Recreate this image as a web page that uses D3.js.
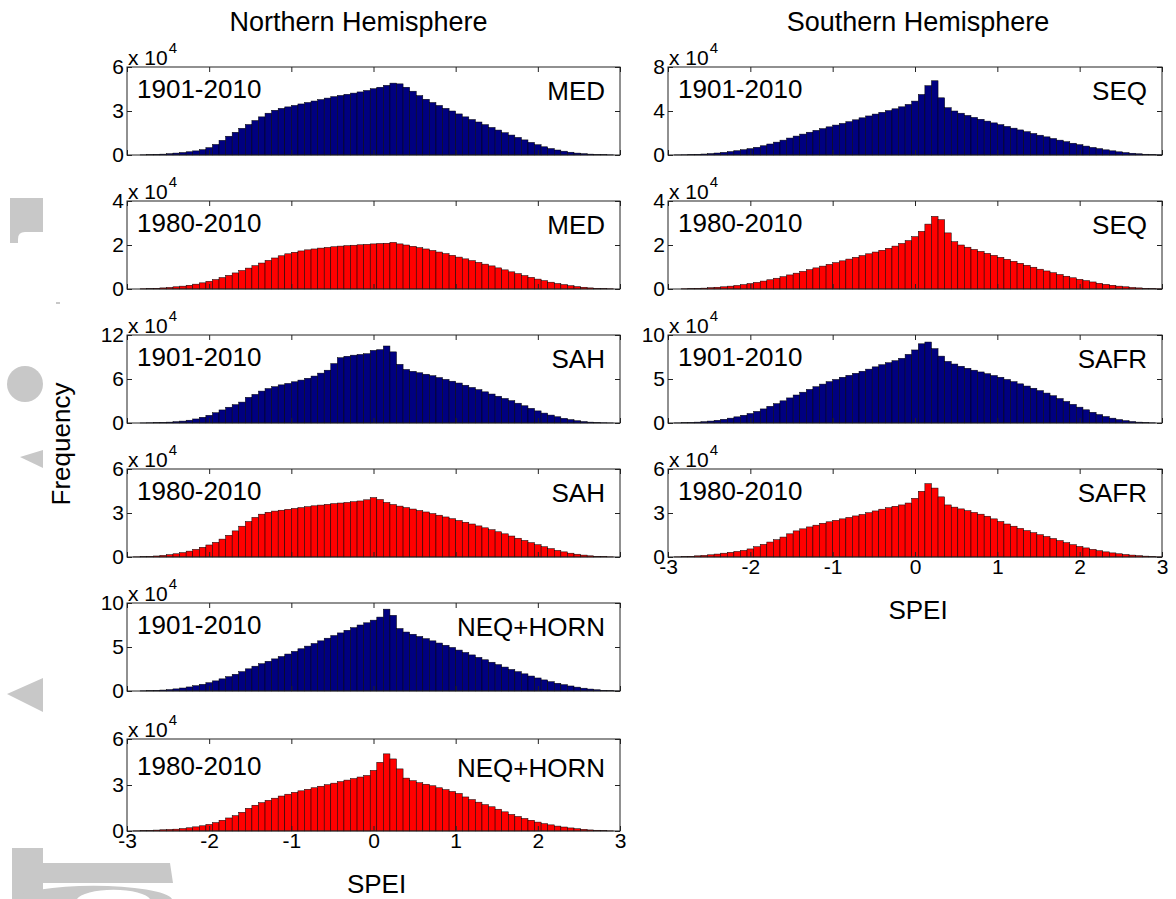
<!DOCTYPE html>
<html><head><meta charset="utf-8">
<script src="https://cdn.jsdelivr.net/npm/d3@7"></script>
<style>
body{margin:0;background:#fff}
svg{display:block}
text{font-family:Arial,"Liberation Sans",sans-serif;fill:#000}
</style>
</head><body>
<svg id="c" width="1176" height="899"></svg>
<script>
// ---------- DATA ----------
const binCenters = [-2.96,-2.88,-2.80,-2.72,-2.64,-2.56,-2.48,-2.40,-2.32,-2.24,-2.16,-2.08,-2.00,-1.92,-1.84,-1.76,-1.68,-1.60,-1.52,-1.44,-1.36,-1.28,-1.20,-1.12,-1.04,-0.96,-0.88,-0.80,-0.72,-0.64,-0.56,-0.48,-0.40,-0.32,-0.24,-0.16,-0.08,0.00,0.08,0.16,0.24,0.32,0.40,0.48,0.56,0.64,0.72,0.80,0.88,0.96,1.04,1.12,1.20,1.28,1.36,1.44,1.52,1.60,1.68,1.76,1.84,1.92,2.00,2.08,2.16,2.24,2.32,2.40,2.48,2.56,2.64,2.72,2.80,2.88,2.96];
const binWidth = 0.08;
const xTicks = [-3,-2,-1,0,1,2,3];
const columnTitles = ["Northern Hemisphere","Southern Hemisphere"];
const xLabel = "SPEI";
const yLabel = "Frequency";
const nhPeriods = ["1901-2010","1980-2010","1901-2010","1980-2010","1901-2010","1980-2010"];
const nhRegions = ["MED","MED","SAH","SAH","NEQ+HORN","NEQ+HORN"];
const nhYTicks = [[0,3,6],[0,2,4],[0,6,12],[0,3,6],[0,5,10],[0,3,6]];
const shPeriods = ["1901-2010","1980-2010","1901-2010","1980-2010"];
const shRegions = ["SEQ","SEQ","SAFR","SAFR"];
const shYTicks = [[0,4,8],[0,2,4],[0,5,10],[0,3,6]];

// frequencies in units of 10^4
const med1901 = [0,0,0.01,0.02,0.04,0.06,0.09,0.13,0.17,0.22,0.28,0.36,0.50,0.72,1.00,1.28,1.55,1.82,2.08,2.35,2.60,2.85,3.05,3.18,3.28,3.38,3.48,3.58,3.68,3.78,3.88,3.98,4.06,4.14,4.22,4.30,4.40,4.52,4.62,4.75,4.90,4.85,4.62,4.35,4.05,3.80,3.58,3.38,3.18,3.00,2.80,2.60,2.42,2.25,2.07,1.88,1.70,1.52,1.36,1.20,1.03,0.86,0.70,0.56,0.44,0.34,0.26,0.19,0.13,0.09,0.06,0.03,0.02,0.01,0];
const med1980 = [0,0,0.01,0.02,0.03,0.05,0.07,0.10,0.13,0.17,0.22,0.28,0.35,0.43,0.52,0.62,0.73,0.84,0.95,1.06,1.18,1.30,1.41,1.51,1.60,1.67,1.73,1.78,1.82,1.86,1.89,1.92,1.95,1.97,1.99,2.01,2.03,2.05,2.07,2.08,2.12,2.05,2.00,1.94,1.88,1.82,1.75,1.68,1.61,1.53,1.45,1.37,1.29,1.21,1.13,1.05,0.96,0.87,0.78,0.70,0.61,0.53,0.45,0.38,0.31,0.25,0.20,0.15,0.11,0.08,0.05,0.03,0.02,0.01,0];
const sah1901 = [0,0,0.01,0.03,0.05,0.08,0.12,0.18,0.26,0.38,0.55,0.78,1.05,1.40,1.78,2.15,2.50,2.85,3.50,3.90,4.35,4.70,4.95,5.20,5.40,5.62,5.85,6.10,6.40,6.80,7.20,8.10,8.90,9.10,9.25,9.35,9.45,9.90,10.00,10.50,9.70,8.00,7.30,7.05,6.85,6.65,6.45,6.20,5.95,5.70,5.45,5.15,4.85,4.55,4.25,3.95,3.65,3.35,3.05,2.70,2.35,2.00,1.65,1.35,1.08,0.85,0.64,0.46,0.31,0.20,0.12,0.06,0.03,0.01,0];
const sah1980 = [0,0.01,0.02,0.04,0.07,0.11,0.16,0.22,0.30,0.40,0.52,0.66,0.82,1.00,1.22,1.48,1.78,2.10,2.42,2.70,2.92,3.05,3.13,3.19,3.25,3.31,3.37,3.43,3.49,3.54,3.59,3.64,3.68,3.72,3.77,3.82,3.90,4.05,3.92,3.72,3.58,3.47,3.37,3.27,3.17,3.07,2.96,2.85,2.73,2.61,2.49,2.37,2.25,2.12,1.99,1.86,1.72,1.58,1.43,1.28,1.13,0.98,0.84,0.70,0.57,0.45,0.35,0.26,0.19,0.13,0.08,0.05,0.03,0.01,0];
const neq1901 = [0,0,0.02,0.04,0.07,0.11,0.16,0.24,0.34,0.46,0.60,0.76,0.94,1.15,1.38,1.63,1.90,2.20,2.52,2.82,3.10,3.38,3.65,3.92,4.20,4.50,4.80,5.10,5.40,5.70,6.00,6.30,6.60,6.90,7.20,7.50,7.75,8.05,8.40,9.30,8.60,7.10,6.70,6.45,6.20,5.95,5.70,5.45,5.20,4.95,4.65,4.38,4.10,3.82,3.55,3.27,3.00,2.72,2.45,2.20,1.95,1.70,1.48,1.26,1.06,0.88,0.72,0.57,0.44,0.32,0.22,0.14,0.08,0.04,0.01];
const neq1980 = [0,0.01,0.03,0.04,0.06,0.08,0.10,0.12,0.16,0.21,0.27,0.34,0.43,0.55,0.70,0.85,1.00,1.22,1.48,1.68,1.85,2.00,2.14,2.28,2.40,2.52,2.62,2.72,2.82,2.92,3.02,3.12,3.22,3.32,3.42,3.52,3.62,3.95,4.48,5.03,4.70,4.05,3.45,3.28,3.15,3.05,2.95,2.82,2.70,2.58,2.45,2.22,2.05,1.88,1.72,1.58,1.42,1.25,1.08,0.95,0.82,0.70,0.58,0.48,0.40,0.32,0.26,0.20,0.15,0.11,0.07,0.05,0.03,0.01,0];
const seq1901 = [0,0.01,0.02,0.04,0.06,0.09,0.13,0.18,0.24,0.31,0.39,0.48,0.58,0.70,0.84,1.00,1.17,1.35,1.54,1.72,1.90,2.07,2.24,2.40,2.56,2.72,2.87,3.03,3.20,3.38,3.55,3.72,3.88,4.04,4.20,4.38,4.60,4.90,5.50,6.30,6.75,5.20,4.30,4.00,3.80,3.60,3.42,3.25,3.08,2.92,2.76,2.60,2.44,2.28,2.12,1.96,1.80,1.65,1.50,1.35,1.21,1.07,0.94,0.81,0.69,0.58,0.47,0.38,0.29,0.22,0.16,0.11,0.07,0.04,0.02];
const seq1980 = [0,0,0.01,0.02,0.03,0.04,0.06,0.08,0.10,0.13,0.16,0.20,0.25,0.30,0.36,0.42,0.49,0.56,0.64,0.72,0.80,0.88,0.96,1.04,1.12,1.20,1.28,1.36,1.44,1.52,1.60,1.68,1.76,1.85,1.95,2.07,2.20,2.38,2.62,2.95,3.30,3.15,2.55,2.15,2.00,1.90,1.80,1.71,1.62,1.53,1.44,1.35,1.26,1.17,1.08,0.99,0.90,0.82,0.74,0.66,0.58,0.51,0.44,0.38,0.32,0.26,0.21,0.17,0.13,0.10,0.07,0.05,0.03,0.02,0.01];
const safr1901 = [0,0.01,0.03,0.06,0.10,0.15,0.22,0.31,0.42,0.55,0.70,0.88,1.08,1.32,1.60,1.90,2.20,2.52,2.85,3.18,3.50,3.82,4.12,4.42,4.70,4.95,5.20,5.42,5.65,5.88,6.12,6.38,6.62,6.85,7.08,7.35,7.80,8.30,9.00,9.20,8.45,7.60,7.00,6.70,6.45,6.22,6.00,5.80,5.60,5.40,5.20,4.95,4.70,4.45,4.20,3.95,3.68,3.40,3.10,2.78,2.45,2.12,1.80,1.50,1.22,0.96,0.74,0.55,0.39,0.27,0.17,0.10,0.05,0.02,0];
const safr1980 = [0,0.01,0.03,0.05,0.08,0.11,0.15,0.20,0.26,0.32,0.38,0.45,0.55,0.70,0.86,1.02,1.18,1.36,1.58,1.78,1.92,2.05,2.17,2.30,2.40,2.50,2.60,2.70,2.80,2.90,3.02,3.14,3.26,3.36,3.46,3.55,3.68,4.00,4.48,5.00,4.70,4.10,3.55,3.40,3.28,3.16,3.04,2.92,2.78,2.60,2.42,2.25,2.10,1.95,1.80,1.66,1.52,1.40,1.26,1.12,0.98,0.84,0.72,0.62,0.52,0.43,0.35,0.28,0.22,0.17,0.13,0.09,0.06,0.03,0.01];

const nhValues = [med1901, med1980, sah1901, sah1980, neq1901, neq1980];
const shValues = [seq1901, seq1980, safr1901, safr1980];

// ---------- LAYOUT ----------
const W = 1176, H = 899;
const colX = [[127, 620], [668, 1162]];
const rowTop = [67, 201, 335, 469, 603, 739];
const rowBottom = [155, 289, 423, 557, 691, 831];
const periodColor = {"1901-2010": "#000080", "1980-2010": "#ff0000"};
const axisColor = "#222";

const svg = d3.select("#c");
svg.append("rect").attr("width", W).attr("height", H).attr("fill", "#fff");

// faint grey watermark fragments in left margin
const wm = svg.append("g").attr("fill", "#c8c8c8");
wm.append("path").attr("d", "M10,198 H43 V232 H25 Q18,232 18,239 V243 H10 Z");
wm.append("rect").attr("x", 56).attr("y", 302).attr("width", 4).attr("height", 2);
wm.append("circle").attr("cx", 25).attr("cy", 384).attr("r", 18);
wm.append("path").attr("d", "M20,457 L43,450 L43,468 Z");
wm.append("path").attr("d", "M7,694 L43,678 L43,712 Z");
wm.append("path").attr("d", "M12,848 H43 V863 H170 L173,883 H43 V899 H12 Z");
wm.append("path").attr("fill-rule", "evenodd")
  .attr("d", "M15,899 A79,15 0 0 1 172,899 Z M77,899 A37,11 0 0 1 150,899 Z");

const panels = [];
nhValues.forEach((v, i) => panels.push({values: v, period: nhPeriods[i], region: nhRegions[i], yTicks: nhYTicks[i],
  x0: colX[0][0], x1: colX[0][1], y0: rowTop[i], y1: rowBottom[i], bottom: i === nhValues.length - 1}));
shValues.forEach((v, i) => panels.push({values: v, period: shPeriods[i], region: shRegions[i], yTicks: shYTicks[i],
  x0: colX[1][0], x1: colX[1][1], y0: rowTop[i], y1: rowBottom[i], bottom: i === shValues.length - 1}));

function styleAxis(g, fs) {
  g.select(".domain").remove();
  g.selectAll(".tick line").attr("stroke", axisColor).attr("stroke-width", 1);
  g.selectAll(".tick text").attr("font-size", fs).attr("font-family", 'Arial,"Liberation Sans",sans-serif').attr("fill", "#000");
}
const plainNum = d => String(d);

panels.forEach(p => {
  const x = d3.scaleLinear().domain([-3, 3]).range([p.x0, p.x1]);
  const ymax = p.yTicks[p.yTicks.length - 1];
  const y = d3.scaleLinear().domain([0, ymax]).range([p.y1, p.y0]);
  const pg = svg.append("g");
  const color = periodColor[p.period];

  pg.append("rect").attr("x", p.x0).attr("y", p.y0).attr("width", p.x1 - p.x0).attr("height", p.y1 - p.y0).attr("fill", "#fff");

  pg.selectAll("rect.bar")
    .data(p.values.map((v, i) => ({c: binCenters[i], v})).filter(d => d.v > 0))
    .join("rect").attr("class", "bar")
    .attr("x", d => x(d.c - binWidth / 2))
    .attr("width", d => x(d.c + binWidth / 2) - x(d.c - binWidth / 2))
    .attr("y", d => y(d.v))
    .attr("height", d => y(0) - y(d.v))
    .attr("fill", color).attr("stroke", "#000").attr("stroke-width", 0.5);

  // ticks (inward, on all four sides)
  const gl = pg.append("g").attr("transform", `translate(${p.x0},0)`)
    .call(d3.axisLeft(y).tickValues(p.yTicks).tickSizeInner(-5).tickSizeOuter(0).tickPadding(3).tickFormat(plainNum));
  styleAxis(gl, 21);
  const gr = pg.append("g").attr("transform", `translate(${p.x1},0)`)
    .call(d3.axisRight(y).tickValues(p.yTicks).tickSizeInner(-5).tickSizeOuter(0).tickFormat(""));
  styleAxis(gr, 21);
  const gt = pg.append("g").attr("transform", `translate(0,${p.y0})`)
    .call(d3.axisTop(x).tickValues(xTicks).tickSizeInner(-5).tickSizeOuter(0).tickFormat(""));
  styleAxis(gt, 21);
  const gb = pg.append("g").attr("transform", `translate(0,${p.y1})`)
    .call(d3.axisBottom(x).tickValues(xTicks).tickSizeInner(-5).tickSizeOuter(0).tickPadding(2)
      .tickFormat(p.bottom ? plainNum : ""));
  styleAxis(gb, 21);

  pg.append("rect").attr("x", p.x0).attr("y", p.y0).attr("width", p.x1 - p.x0).attr("height", p.y1 - p.y0)
    .attr("fill", "none").attr("stroke", axisColor).attr("stroke-width", 1);

  // exponent label
  const ex = pg.append("text").attr("x", p.x0 + 1).attr("y", p.y0 - 2).attr("font-size", 21);
  ex.append("tspan").text("x 10");
  ex.append("tspan").attr("dy", -12).attr("dx", 1).attr("font-size", 15).text("4");

  const extra = p.bottom && p.x0 === colX[0][0] ? 5 : 0;
  pg.append("text").attr("x", p.x0 + 10).attr("y", p.y0 + 31 + extra).attr("font-size", 26).text(p.period);
  pg.append("text").attr("x", p.x1 - 15).attr("y", p.y0 + 33 + extra).attr("font-size", 26)
    .attr("text-anchor", "end").text(p.region);

  if (p.bottom) {
    pg.append("text").attr("x", (p.x0 + p.x1) / 2 + 3).attr("y", p.y1 + 62).attr("font-size", 26)
      .attr("text-anchor", "middle").text(xLabel);
  }
});

// column titles
columnTitles.forEach((t, i) => {
  svg.append("text").attr("x", (colX[i][0] + colX[i][1]) / 2 - 15 + i * 18).attr("y", 31).attr("font-size", 27)
    .attr("text-anchor", "middle").text(t);
});

// y label
svg.append("text").attr("transform", "translate(70,444) rotate(-90)").attr("font-size", 26)
  .attr("text-anchor", "middle").text(yLabel);
</script>
</body></html>
